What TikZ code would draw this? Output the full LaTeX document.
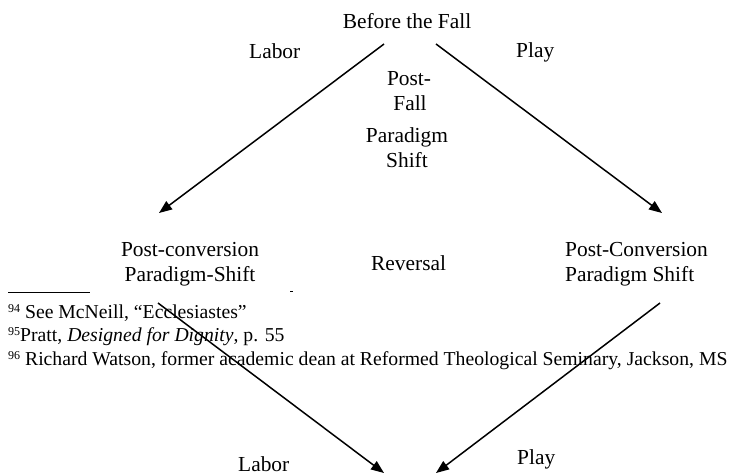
\documentclass[tikz,border=0pt]{standalone}
\usepackage{fontspec}
\setmainfont{Liberation Serif}
\usetikzlibrary{arrows.meta}
\begin{document}
\begin{tikzpicture}[x=1pt,y=-1pt,
  lbl/.style={inner sep=0pt, font=\fontsize{21.4}{25}\selectfont, anchor=base},
  lblw/.style={lbl, anchor=base west},
  fn/.style={inner sep=0pt, font=\fontsize{19.7}{23.5}\selectfont, anchor=base west},
  rule/.style={line width=0.9pt},
  arr/.style={line width=1.5pt, -{Triangle[length=13pt,width=10pt]}}]
\useasboundingbox (0,0) rectangle (733,475);
% labels
\node[lbl] (before) at (407,28) {Before the Fall};
\node[lblw] (labor1) at (249,58) {Labor};
\node[lblw] (play1) at (516,57) {Play};
\node[lbl] (pf1) at (409,85) {Post-};
\node[lbl] (pf2) at (410,110) {Fall};
\node[lbl] (ps1) at (407,142) {Paradigm};
\node[lbl] (ps2) at (407,167) {Shift};
\node[lbl] (lc1) at (190,256) {Post-conversion};
\node[lbl] (lc2) at (190,281) {Paradigm-Shift};
\node[lblw] (rev) at (371,270) {Reversal};
\node[lblw] (rc1) at (565,256) {Post-Conversion};
\node[lblw] (rc2) at (565,281) {Paradigm Shift};
\node[lblw] (labor2) at (238,471) {Labor};
\node[lblw] (play2) at (517,464) {Play};
% footnotes
\coordinate (sepa) at (8,292);
\coordinate (sepb) at (90,292);
\coordinate (dasha) at (290,291);
\coordinate (dashb) at (293,291);
\draw[rule] (sepa) -- (sepb);
\draw[rule] (dasha) -- (dashb);
\node[fn] (fn94) at (8,318) {\raisebox{6pt}{\fontsize{12}{12}\selectfont 94} See McNeill, “Ecclesiastes”};
\node[fn] (fn95) at (8,341.5) {\raisebox{6pt}{\fontsize{12}{12}\selectfont 95}Pratt, \textit{Designed for Dignity}, p. 55};
\node[fn] (fn96) at (8,365) {\raisebox{6pt}{\fontsize{12}{12}\selectfont 96} Richard Watson, former academic dean at Reformed Theological Seminary, Jackson, MS};
% arrows
\coordinate (ta) at (384,44);
\coordinate (tb) at (436,44);
\coordinate (ml) at (159,213);
\coordinate (mr) at (662,213);
\coordinate (ls) at (158,303);
\coordinate (rs) at (660,303);
\coordinate (bl) at (384,473);
\coordinate (br) at (436,473);
\draw[arr] (ta) -- (ml);
\draw[arr] (tb) -- (mr);
\draw[arr] (ls) -- (bl);
\draw[arr] (rs) -- (br);
\end{tikzpicture}
\end{document}
